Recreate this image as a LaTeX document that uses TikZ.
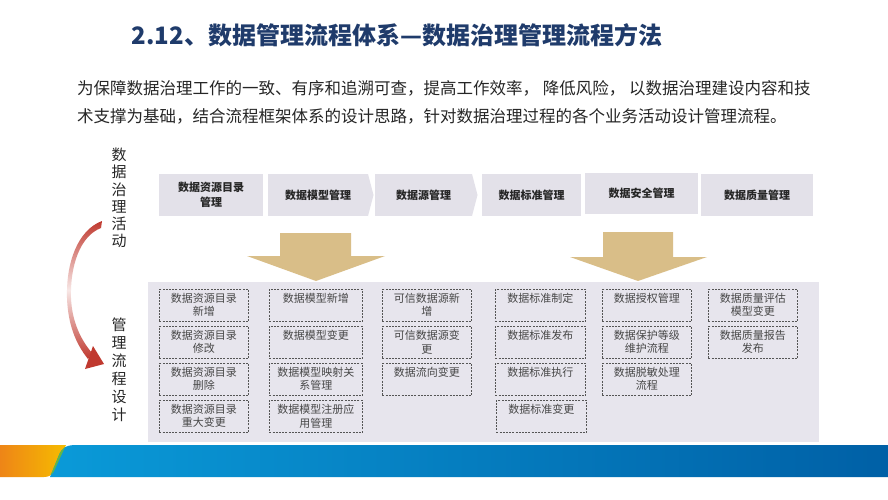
\documentclass[tikz,border=0pt]{standalone}
\usepackage{fontspec}
\setmainfont{Noto Sans CJK SC}
\usetikzlibrary{arrows.meta}
\definecolor{titleblue}{HTML}{1F3B6B}
\definecolor{bodytext}{HTML}{262626}
\definecolor{boxfill}{HTML}{E3E1E9}
\definecolor{panelfill}{HTML}{E7E5ED}
\definecolor{gold}{HTML}{D9BE88}
\definecolor{dashgray}{HTML}{555555}
\definecolor{arrowred}{HTML}{C0392F}
\definecolor{bandblueL}{HTML}{0A9AD8}
\definecolor{bandblueR}{HTML}{0060A6}
\definecolor{bandorange}{HTML}{EE8517}
\definecolor{bandyellow}{HTML}{F6BC00}
\definecolor{bandgreen}{HTML}{62B646}
\begin{document}
\begin{tikzpicture}[x=1pt,y=-1pt,
  topbox/.style={fill=boxfill, draw=none, inner sep=0pt, minimum height=42pt,
    font=\fontsize{11}{15}\selectfont\bfseries, text=bodytext, align=center},
  dbox/.style={draw=dashgray, dash pattern=on 2pt off 1.2pt, line width=0.7pt,
    anchor=north west, inner sep=0pt, minimum height=32pt},
  dtext/.style={anchor=north, inner sep=0pt, font=\fontsize{11}{13.5}\selectfont,
    text=bodytext!85, align=center},
  vlabel/.style={inner sep=0pt, font=\fontsize{15}{17.5}\selectfont, text=bodytext, align=center},
  goldarrow/.style={fill=gold, draw=none}
]
\useasboundingbox (0,0) rectangle (888,500);
\fill[white] (0,0) rectangle (888,500);

% title and paragraph
\node[inner sep=0pt, font=\fontsize{24}{28}\selectfont\bfseries, text=titleblue] (title) at (397,35)
  {2.12、数据管理流程体系—数据治理管理流程方法};
\node[inner sep=0pt, anchor=west, font=\fontsize{16.5}{20}\selectfont, text=bodytext] (para1) at (77,88)
  {为保障数据治理工作的一致、有序和追溯可查，提高工作效率， 降低风险， 以数据治理建设内容和技};
\node[inner sep=0pt, anchor=west, font=\fontsize{16.5}{20}\selectfont, text=bodytext] (para2) at (77,116)
  {术支撑为基础，结合流程框架体系的设计思路，针对数据治理过程的各个业务活动设计管理流程。};

% top activity boxes
\node[topbox, minimum width=104pt] (a1) at (211,195) {数据资源目录\\管理};
\node[topbox, minimum width=100pt] (a2) at (318,195) {数据模型管理};
\fill[boxfill] (368,174) -- (373.5,195) -- (368,216) -- cycle;
\node[topbox, minimum width=97pt] (a3) at (423.5,195) {数据源管理};
\fill[boxfill] (472,174) -- (477.5,195) -- (472,216) -- cycle;
\node[topbox, minimum width=99pt] (a4) at (531.5,195) {数据标准管理};
\node[topbox, minimum width=113pt, minimum height=41pt] (a5) at (641.5,193.5) {数据安全管理};
\node[topbox, minimum width=112pt] (a6) at (757,195) {数据质量管理};

% gold arrows
\fill[goldarrow] (280,233) -- (351,233) -- (351,256) -- (385,256) -- (316,281) -- (247,256) -- (280,256) -- cycle;
\fill[goldarrow] (603,232) -- (673,232) -- (673,257) -- (707,257) -- (638,281) -- (570,257) -- (603,257) -- cycle;

% panel
\fill[panelfill] (148,282) rectangle (819,442);

% dashed process boxes
% column 1
\node[dbox, minimum width=89pt] (c1r1) at (159,289) {};
\node[dtext] at ([yshift=-4pt]c1r1.north) {数据资源目录\\新增};
\node[dbox, minimum width=89pt] (c1r2) at (159,326) {};
\node[dtext] at ([yshift=-4pt]c1r2.north) {数据资源目录\\修改};
\node[dbox, minimum width=89pt] (c1r3) at (159,363) {};
\node[dtext] at ([yshift=-4pt]c1r3.north) {数据资源目录\\删除};
\node[dbox, minimum width=89pt] (c1r4) at (159,400) {};
\node[dtext] at ([yshift=-4pt]c1r4.north) {数据资源目录\\重大变更};
% column 2
\node[dbox, minimum width=93pt] (c2r1) at (269,289) {};
\node[dtext] at ([yshift=-4pt]c2r1.north) {数据模型新增};
\node[dbox, minimum width=93pt] (c2r2) at (269,326) {};
\node[dtext] at ([yshift=-4pt]c2r2.north) {数据模型变更};
\node[dbox, minimum width=93pt] (c2r3) at (269,363) {};
\node[dtext] at ([yshift=-4pt]c2r3.north) {数据模型映射关\\系管理};
\node[dbox, minimum width=93pt] (c2r4) at (269,400) {};
\node[dtext] at ([yshift=-4pt]c2r4.north) {数据模型注册应\\用管理};
% column 3
\node[dbox, minimum width=89pt] (c3r1) at (382,289) {};
\node[dtext] at ([yshift=-4pt]c3r1.north) {可信数据源新\\增};
\node[dbox, minimum width=89pt] (c3r2) at (382,326) {};
\node[dtext] at ([yshift=-4pt]c3r2.north) {可信数据源变\\更};
\node[dbox, minimum width=89pt] (c3r3) at (382,363) {};
\node[dtext] at ([yshift=-4pt]c3r3.north) {数据流向变更};
% column 4
\node[dbox, minimum width=90pt] (c4r1) at (495,289) {};
\node[dtext] at ([yshift=-4pt]c4r1.north) {数据标准制定};
\node[dbox, minimum width=90pt] (c4r2) at (495,326) {};
\node[dtext] at ([yshift=-4pt]c4r2.north) {数据标准发布};
\node[dbox, minimum width=90pt] (c4r3) at (495,363) {};
\node[dtext] at ([yshift=-4pt]c4r3.north) {数据标准执行};
\node[dbox, minimum width=90pt] (c4r4) at (496,400) {};
\node[dtext] at ([yshift=-4pt]c4r4.north) {数据标准变更};
% column 5
\node[dbox, minimum width=89pt] (c5r1) at (602,289) {};
\node[dtext] at ([yshift=-4pt]c5r1.north) {数据授权管理};
\node[dbox, minimum width=89pt] (c5r2) at (602,326) {};
\node[dtext] at ([yshift=-4pt]c5r2.north) {数据保护等级\\维护流程};
\node[dbox, minimum width=89pt] (c5r3) at (602,363) {};
\node[dtext] at ([yshift=-4pt]c5r3.north) {数据脱敏处理\\流程};
% column 6
\node[dbox, minimum width=89pt] (c6r1) at (708,289) {};
\node[dtext] at ([yshift=-4pt]c6r1.north) {数据质量评估\\模型变更};
\node[dbox, minimum width=89pt] (c6r2) at (708,326) {};
\node[dtext] at ([yshift=-4pt]c6r2.north) {数据质量报告\\发布};

% vertical labels
\node[vlabel, font=\fontsize{15}{17.3}\selectfont] (lab1) at (119,198) {数\\据\\治\\理\\活\\动};
\node[vlabel, font=\fontsize{15}{18}\selectfont] (lab2) at (119,370) {管\\理\\流\\程\\设\\计};

% red curved arrow
\shade[top color=arrowred, bottom color=arrowred, middle color=arrowred!12]
  (102,221) .. controls (78,230) and (66,262) .. (67,298)
  .. controls (68,325) and (76,344) .. (88,359)
  -- (92,353) .. controls (81,340) and (72,322) .. (71,298)
  .. controls (70,266) and (80,236) .. (101,228) -- cycle;
\fill[arrowred] (93,346) -- (104,364) -- (85,369) -- cycle;

% bottom band
\path[left color=bandorange, right color=bandyellow]
  (0,445) -- (66,445) -- (54,471) .. controls (52,475) and (49,477) .. (44,477) -- (0,477) -- cycle;
\path[left color=bandblueL, right color=bandblueR]
  (50,477) -- (59,455) .. controls (62,448) and (66,445) .. (76,445) -- (888,445) -- (888,477) -- cycle;
\begin{scope}
  \clip (0,445) -- (66,445) -- (54,471) .. controls (52,475) and (49,477) .. (44,477) -- (0,477) -- cycle;
  \fill[bandgreen] (50,477) -- (59,455) .. controls (62,448) and (66,445) .. (76,445) -- (888,445) -- (888,477) -- cycle;
\end{scope}
\end{tikzpicture}
\end{document}
